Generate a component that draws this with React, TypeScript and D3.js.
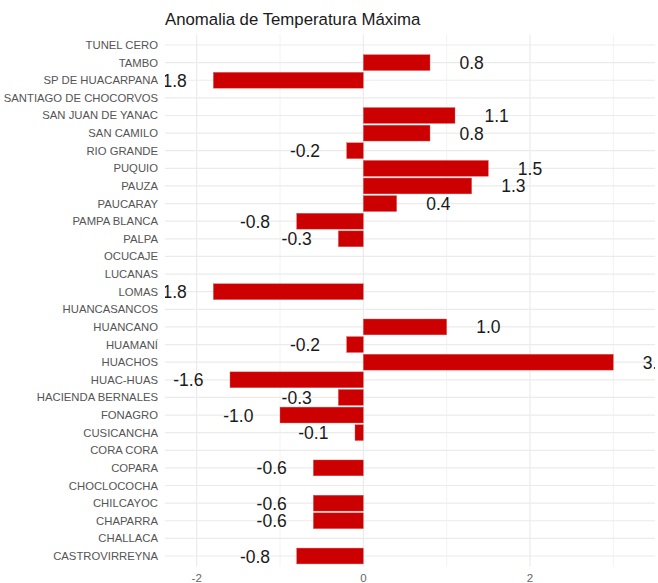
import React from "react";
import * as d3 from "d3";

const stations: string[] = [
  "TUNEL CERO", "TAMBO", "SP DE HUACARPANA", "SANTIAGO DE CHOCORVOS", "SAN JUAN DE YANAC",
  "SAN CAMILO", "RIO GRANDE", "PUQUIO", "PAUZA", "PAUCARAY",
  "PAMPA BLANCA", "PALPA", "OCUCAJE", "LUCANAS", "LOMAS",
  "HUANCASANCOS", "HUANCANO", "HUAMANÍ", "HUACHOS", "HUAC-HUAS",
  "HACIENDA BERNALES", "FONAGRO", "CUSICANCHA", "CORA CORA", "COPARA",
  "CHOCLOCOCHA", "CHILCAYOC", "CHAPARRA", "CHALLACA", "CASTROVIRREYNA",
];

const anomalies: (number | null)[] = [
  null, 0.8, -1.8, null, 1.1,
  0.8, -0.2, 1.5, 1.3, 0.4,
  -0.8, -0.3, null, null, -1.8,
  null, 1.0, -0.2, 3.0, -1.6,
  -0.3, -1.0, -0.1, null, -0.6,
  null, -0.6, -0.6, null, -0.8,
];

const xTicks: number[] = [-2, 0, 2];
const xMinorTicks: number[] = [-1, 1, 3];
const xDomain: [number, number] = [-2.38, 3.5];
const labelNudge = 0.5;
const title = "Anomalia de Temperatura Máxima";

const W = 658;
const H = 583;
const margin = { left: 165, right: 3 };
const firstRowY = 45;
const lastRowY = 556;

export default function App() {
  const x = d3.scaleLinear().domain(xDomain).range([margin.left, W - margin.right]);
  const y = d3.scalePoint<string>().domain(stations).range([firstRowY, lastRowY]);
  const step = y.step();
  const bw = step * 0.9;
  const yc = (s: string) => y(s) as number;
  const fmt = (v: number) => v.toFixed(1);
  const panelTop = firstRowY - 0.6 * step;
  const panelBottom = lastRowY + 0.6 * step;

  return (
    <svg
      width={W}
      height={H}
      style={{ position: "absolute", left: 0, top: 0, background: "#fff" }}
      fontFamily="'Liberation Sans', Arial, sans-serif"
    >
      <defs>
        <clipPath id="panel">
          <rect x={margin.left} y={panelTop} width={W - margin.right - margin.left} height={panelBottom - panelTop} />
        </clipPath>
      </defs>
      <text x={margin.left} y={25} fontSize={16.8} fill="#1a1a1a">
        {title}
      </text>
      <g>
        {xMinorTicks.map((t) => (
          <line key={"mn" + t} x1={x(t)} x2={x(t)} y1={panelTop} y2={panelBottom} stroke="#f2f2f2" strokeWidth={1} />
        ))}
        {xTicks.map((t) => (
          <line key={"mj" + t} x1={x(t)} x2={x(t)} y1={panelTop} y2={panelBottom} stroke="#ebebeb" strokeWidth={1.2} />
        ))}
        {stations.map((s) => (
          <line key={"h" + s} x1={margin.left} x2={W - margin.right} y1={yc(s)} y2={yc(s)} stroke="#ebebeb" strokeWidth={1.2} />
        ))}
      </g>
      <g>
        {stations.map((s, i) => {
          const v = anomalies[i];
          if (v === null) return null;
          const x0 = x(Math.min(0, v));
          const x1 = x(Math.max(0, v));
          return <rect key={"b" + s} x={x0} y={yc(s) - bw / 2} width={x1 - x0} height={bw} fill="#cc0000" stroke="#e06060" strokeWidth={0.4} />;
        })}
      </g>
      <g clipPath="url(#panel)">
        {stations.map((s, i) => {
          const v = anomalies[i];
          if (v === null) return null;
          const lx = x(v + (v >= 0 ? labelNudge : -labelNudge));
          return (
            <text key={"l" + s} x={lx} y={yc(s) + 6.5} textAnchor="middle" fontSize={17.5} fill="#1a1a1a">
              {fmt(v)}
            </text>
          );
        })}
      </g>
      <g>
        {stations.map((s) => (
          <text key={"y" + s} x={margin.left - 7} y={yc(s) + 4} textAnchor="end" fontSize={11.3} fill="#555">
            {s}
          </text>
        ))}
      </g>
      <g>
        {xTicks.map((t) => (
          <text key={"xt" + t} x={x(t)} y={582} textAnchor="middle" fontSize={11.5} fill="#666">
            {String(t)}
          </text>
        ))}
      </g>
    </svg>
  );
}
